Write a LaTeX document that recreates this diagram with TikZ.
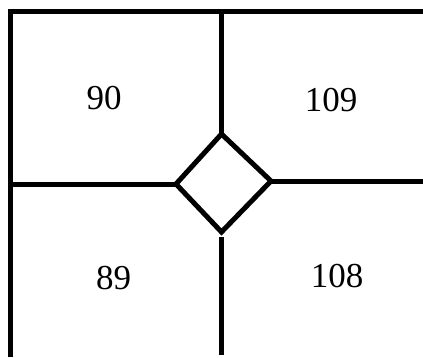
\documentclass[tikz,border=0pt]{standalone}
\usepackage{fontspec}
\setmainfont{Liberation Serif}
\begin{document}
\begin{tikzpicture}[x=1pt,y=-1pt,
  wall/.style={line width=5pt,line cap=butt,line join=miter},
  lbl/.style={font=\fontsize{35}{40}\selectfont,inner sep=0pt,anchor=center}]
\useasboundingbox (0,0) rectangle (423,357);
% corners and ends
\coordinate (tl) at (10,11.5);
\coordinate (tr) at (423,11.5);
\coordinate (bl) at (10,357);
\coordinate (tm) at (221.5,11.5);
\coordinate (bm) at (221.5,355);
\coordinate (ml) at (10,184);
\coordinate (mr) at (423,181);
% diamond vertices
\coordinate (dt) at (221.5,134);
\coordinate (dl) at (176,184);
\coordinate (dr) at (271,181);
\coordinate (db) at (221.5,232);
\coordinate (dbs) at (221.5,237);
% walls
\draw[wall] (bl) -- (tl) -- (tr);
\draw[wall] (tm) -- (dt);
\draw[wall] (dbs) -- (bm);
\draw[wall] (ml) -- (dl);
\draw[wall] (dr) -- (mr);
\draw[wall] (dt) -- (dr) -- (db) -- (dl) -- cycle;
% labels
\node[lbl] (a) at (104,98.5) {90};
\node[lbl] (b) at (331,100) {109};
\node[lbl] (c) at (113.5,278.5) {89};
\node[lbl] (d) at (337,276.5) {108};
\end{tikzpicture}
\end{document}
